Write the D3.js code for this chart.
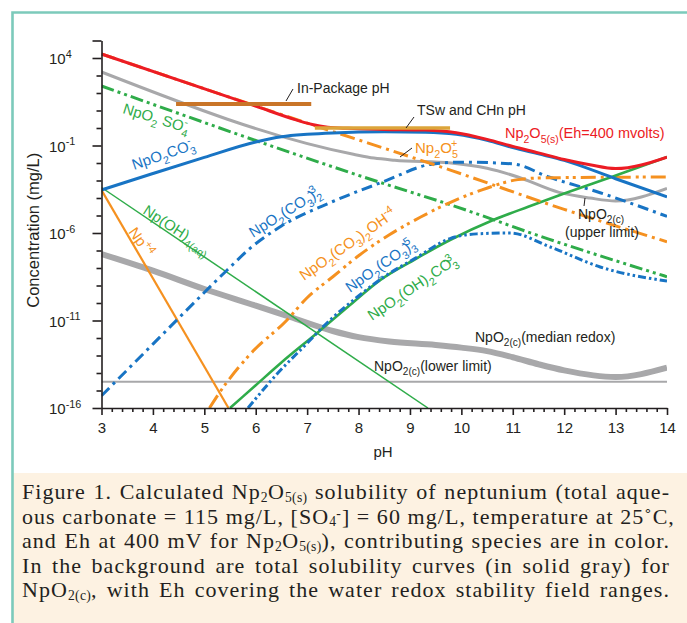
<!DOCTYPE html>
<html><head><meta charset="utf-8">
<script src="https://cdn.jsdelivr.net/npm/d3@7"></script>
<style>
body{margin:0;background:#fff;}
#wrap{position:relative;width:687px;height:623px;overflow:hidden;}
svg{position:absolute;left:0;top:0;}
#cap{position:absolute;left:22px;top:480px;width:648px;font-family:"Liberation Serif","Times New Roman",serif;font-size:22px;line-height:24.6px;color:#231f20;letter-spacing:1.05px;}
#cap div{text-align:justify;text-align-last:justify;height:24.6px;overflow:visible;white-space:nowrap;}
#cap .sb{font-size:0.62em;position:relative;top:0.2em;line-height:0;letter-spacing:0.3px;}
#cap .sp{font-size:0.62em;position:relative;top:-0.4em;line-height:0;}
</style></head>
<body><div id="wrap"><svg id="chart" width="687" height="623"></svg>
<div id="cap">
<div>Figure 1. Calculated Np<span class="sb">2</span>O<span class="sb">5(s)</span> solubility of neptunium (total aque-</div>
<div>ous carbonate = 115 mg/L, [SO<span class="sb">4</span><span class="sp">-</span>] = 60 mg/L, temperature at 25˚C,</div>
<div>and Eh at 400 mV for Np<span class="sb">2</span>O<span class="sb">5(s)</span>), contributing species are in color.</div>
<div>In the background are total solubility curves (in solid gray) for</div>
<div>NpO<span class="sb">2(c)</span>, with Eh covering the water redox stability field ranges.</div>
</div></div>
<script>
// ---------- DATA (pH, log10 concentration mg/L) ----------
const pHTicks = [3,4,5,6,7,8,9,10,11,12,13,14];
const yMajorExp = [4,-1,-6,-11,-16];
const yDomainExp = [-16,5];

const np2o5Total = [[3,4.23],[6,1.25],[6.8,0.45],[7.1,0.2],[7.4,0.05],[7.8,-0.02],[8.5,-0.08],[9.3,-0.12],[9.9,-0.27],[10.5,-0.65],[11,-1.05],[11.5,-1.42],[12,-1.8],[12.5,-2.1],[13,-2.32],[14,-1.66]];
const np2o5Plus = [[3,4.23],[7,0.28],[9.8,-2.42],[12,-4.65],[14,-6.5]];
const npo2co3 = [[3,-3.54],[4,-2.6],[5,-1.68],[6,-0.8],[6.5,-0.5],[7,-0.36],[7.5,-0.28],[8.5,-0.22],[9.3,-0.24],[9.9,-0.36],[10.5,-0.7],[11,-1.12],[11.5,-1.48],[12,-1.85],[13,-2.9],[14,-3.94]];
const npo2so4 = [[3,2.4],[8.4,-3.09],[9.8,-4.4],[11.7,-6.35],[14,-8.5]];
const npPlus4 = [[3,-3.55],[5.47,-16]];
const npOH4 = [[3,-3.4],[9.35,-16]];
const npo2co3_2 = [[3,-15.3],[4,-12.35],[5,-9.4],[5.45,-8.1],[5.9,-6.85],[6.5,-5.6],[7.5,-4.2],[8.5,-3.05],[9.4,-2.08],[10,-1.95],[11,-2.05],[11.7,-2.8],[12.7,-3.7],[14,-5.05]];
const npo2co3_2oh = [[5.1,-16],[5.3,-15.1],[5.9,-12.9],[6.6,-11.0],[7.0,-9.7],[7.5,-8.5],[8.0,-7.3],[8.6,-6.1],[9.2,-5.1],[9.8,-4.23],[10.4,-3.54],[11.1,-2.95],[11.6,-2.85],[14,-2.8]];
const npo2oh2co3 = [[5.5,-16],[6,-14.7],[6.5,-13.4],[7.2,-11.7],[7.8,-10.2],[8.42,-8.69],[9.1,-7.5],[9.78,-6.4],[10.62,-5.26],[11.3,-4.5],[11.92,-3.83],[13.03,-2.69],[14,-1.66]];
const npo2co3_3 = [[5.85,-16],[6.4,-14.1],[7.0,-12.3],[7.4,-11.1],[8.0,-9.6],[8.5,-8.5],[9.1,-7.45],[9.78,-6.32],[10.3,-6.05],[10.95,-6.0],[11.73,-6.8],[12.7,-7.94],[14,-8.75]];
const npo2cUpper = [[3,3.2],[7.9,-1.5],[8.3,-1.72],[8.7,-1.84],[9.8,-2.0],[10.5,-2.3],[11.1,-2.8],[11.9,-3.68],[12.5,-4.0],[13,-4.17],[14,-3.45]];
const npo2cMedian = [[3,-7.2],[4,-8.15],[5,-9.2],[6,-10.15],[6.67,-10.8],[7.5,-11.6],[8,-11.95],[8.6,-12.2],[9.5,-12.4],[10,-12.55],[10.5,-12.75],[11,-13.1],[11.5,-13.5],[12,-13.85],[13,-14.23],[14,-13.7]];
const npo2cLower = [[3,-14.5],[14,-14.5]];
const inPackagePH = [4.45,7.08], inPackageLevel = 1.37;
const tswPH = [7.15,9.78], tswLevel = 0.0;

// ---------- CHART ----------
const svg = d3.select('#chart');
const W=687,H=623;
svg.append('rect').attr('x',0).attr('y',0).attr('width',W).attr('height',H).attr('fill','#fff');
svg.append('rect').attr('x',13).attr('y',473).attr('width',W-13).attr('height',H-473).attr('fill','#fdf2e2');
svg.append('path').attr('d',`M12.5,${H} L12.5,12.5 L${W},12.5`).attr('fill','none').attr('stroke','#7ccabb').attr('stroke-width',2.6);

const x = d3.scaleLinear().domain([3,14]).range([101.5,667]);
const y = d3.scaleLog().domain(yDomainExp.map(e=>Math.pow(10,e))).range([408,40.5]);
const P = v=>Math.pow(10,v);
const FONT = '"Liberation Sans", Arial, Helvetica, sans-serif';

svg.append('clipPath').attr('id','clip').append('rect')
  .attr('x',x(3)).attr('y',y(P(5))).attr('width',x(14)-x(3)).attr('height',y(P(-16))-y(P(5)));
const plot = svg.append('g').attr('clip-path','url(#clip)');

const line = d3.line().x(d=>x(d[0])).y(d=>y(P(d[1]))).curve(d3.curveMonotoneX);
const lineL = d3.line().x(d=>x(d[0])).y(d=>y(P(d[1])));

const C = {red:'#ec1c24', blue:'#1874c4', green:'#2fac4a', orange:'#f59120', gray:'#a8a8aa'};

function draw(data, color, w, dash, lin){
  plot.append('path').datum(data).attr('d', lin?lineL:line)
    .attr('fill','none').attr('stroke',color).attr('stroke-width',w)
    .attr('stroke-dasharray',dash||null).attr('stroke-linejoin','round');
}
draw(npo2cLower, C.gray, 1.8, null, true);
draw(npo2cMedian, C.gray, 6);
draw(npo2cUpper, C.gray, 3);
draw(npPlus4, C.orange, 2.2, null, true);
draw(npOH4, C.green, 1.5, null, true);
draw(npo2so4, C.green, 3, '13,4,3,4,3,4');
draw(npo2co3_2, C.blue, 3, '11,5,3,5');
draw(npo2co3_2oh, C.orange, 3, '15,5,3,4,3,5');
draw(npo2oh2co3, C.green, 2.6);
draw(npo2co3_3, C.blue, 3, '8,3,2.5,3,2.5,3');
draw(np2o5Plus, C.orange, 3, '15,5,3,5');
draw(npo2co3, C.blue, 3);
draw(np2o5Total, C.red, 3);

// bars
svg.append('line').attr('x1',x(inPackagePH[0])).attr('x2',x(inPackagePH[1]))
  .attr('y1',y(P(inPackageLevel))).attr('y2',y(P(inPackageLevel)))
  .attr('stroke','#c97528').attr('stroke-width',4);
svg.append('line').attr('x1',x(tswPH[0])).attr('x2',x(tswPH[1]))
  .attr('y1',y(P(tswLevel))).attr('y2',y(P(tswLevel)))
  .attr('stroke','#dca53a').attr('stroke-width',3.5);

// axes
const gx = svg.append('g').attr('transform',`translate(0,${y(P(-16))})`);
gx.call(d3.axisBottom(x).tickValues(d3.range(3,14.001,0.2).filter(v=>Math.abs(v-Math.round(v))>0.01)).tickSize(4).tickFormat('').tickSizeOuter(0));
gx.call(g=>g.select('.domain').remove());
const gx2 = svg.append('g').attr('transform',`translate(0,${y(P(-16))})`);
gx2.call(d3.axisBottom(x).tickValues(pHTicks).tickSize(7).tickPadding(7).tickFormat(d3.format('d')).tickSizeOuter(0));
svg.selectAll('g.tick text').attr('font-family',FONT).attr('font-size',15).attr('fill','#231f20');

const gy = svg.append('g').attr('transform',`translate(${x(3)},0)`);
gy.call(d3.axisLeft(y).tickValues(d3.range(-16,5.01,1).filter(e=>!yMajorExp.includes(e)&&e!==5).map(P)).tickSize(5).tickFormat('').tickSizeOuter(0));
gy.call(g=>g.select('.domain').remove());
const gy2 = svg.append('g').attr('transform',`translate(${x(3)},0)`);
gy2.call(d3.axisLeft(y).tickValues(yMajorExp.concat([5]).map(P)).tickSize(9).tickFormat('').tickSizeOuter(0));
svg.selectAll('.domain, .tick line').attr('stroke','#231f20').attr('stroke-width',1.6);

function rich(sel, parts, fs){
  let cur=0;
  parts.forEach(p=>{
    const t=p[1]||'n';
    const target = t==='b'? fs*0.32 : t==='p'? -fs*0.42 : 0;
    const ts = sel.append('tspan').text(p[0]).attr('dy', target-cur);
    if(t!=='n') ts.attr('font-size', fs*0.72);
    if(p[2]) ts.attr('dx', p[2]);
    cur=target;
  });
  return sel;
}
function label(parts, x0, y0, color, fs, angle, anchor){
  const t = svg.append('text').attr('x',0).attr('y',0)
    .attr('transform',`translate(${x0},${y0}) rotate(${angle||0})`)
    .attr('font-family',FONT).attr('font-size',fs).attr('fill',color)
    .attr('text-anchor',anchor||'start');
  rich(t, parts, fs);
  return t;
}
yMajorExp.forEach(e=>{
  label([['10'],[String(e),'p']], 49, y(P(e))+6, '#231f20', 15, 0);
});
svg.append('text').attr('transform',`translate(39,${(y(P(-16))+y(P(5)))/2+6}) rotate(-90)`)
  .attr('text-anchor','middle').attr('font-family',FONT).attr('font-size',16.5).attr('fill','#231f20')
  .text('Concentration (mg/L)');
svg.append('text').attr('x',383).attr('y',457).attr('text-anchor','middle')
  .attr('font-family',FONT).attr('font-size',15).attr('fill','#231f20').text('pH');

const K='#231f20';
label([['NpO'],['2','b'],[' SO'],['4','b'],['-','p',-6]], 122, 113, C.green, 15, 17);
label([['NpO'],['2','b'],['CO'],['3','b'],['-','p',-6]], 134, 170, C.blue, 15, -19);
label([['Np(OH)'],['4(aq)','b']], 142, 213, C.green, 15, 33);
label([['Np'],['+4','p']], 128, 232, C.orange, 15, 55);
label([['NpO'],['2','b'],['(CO'],['3','b'],[')'],['2','b'],['-3','p',-12]], 253, 238, C.blue, 15, -32);
label([['NpO'],['2','b'],['(CO'],['3','b'],[')'],['2','b'],['OH'],['-4','p']], 304, 281, C.orange, 15, -35);
label([['NpO'],['2','b'],['(CO'],['3','b'],[')'],['3','b'],['-5','p',-12]], 350, 293, C.blue, 15, -35);
label([['NpO'],['2','b'],['(OH)'],['2','b'],['CO'],['3','b'],['-3','p',-12]], 372, 321, C.green, 15, -34);

label([['In-Package pH']], 297, 93, K, 14, 0);
svg.append('line').attr('x1',286).attr('y1',101).attr('x2',293).attr('y2',89).attr('stroke',K).attr('stroke-width',1);
label([['TSw and CHn pH']], 417, 115, K, 14, 0);
svg.append('line').attr('x1',406).attr('y1',128).attr('x2',414).attr('y2',117).attr('stroke',K).attr('stroke-width',1);
label([['Np'],['2','b'],['O'],['5(s)','b'],['(Eh=400 mvolts)']], 505, 138, C.red, 14.5, 0);
label([['Np'],['2','b'],['O'],['5','b'],['+','p',-7]], 415, 153, C.orange, 15, 0);
svg.append('line').attr('x1',400).attr('y1',157).attr('x2',412).attr('y2',148).attr('stroke',K).attr('stroke-width',1);
label([['NpO'],['2(c)','b']], 578, 219, K, 14, 0);
label([['(upper limit)']], 565, 237, K, 14, 0);
svg.append('line').attr('x1',585).attr('y1',198).attr('x2',584).attr('y2',206).attr('stroke',K).attr('stroke-width',1);
label([['NpO'],['2(c)','b'],['(median redox)']], 475, 342, K, 14, 0);
label([['NpO'],['2(c)','b'],['(lower limit)']], 374, 371, K, 14, 0);
</script></body></html>
